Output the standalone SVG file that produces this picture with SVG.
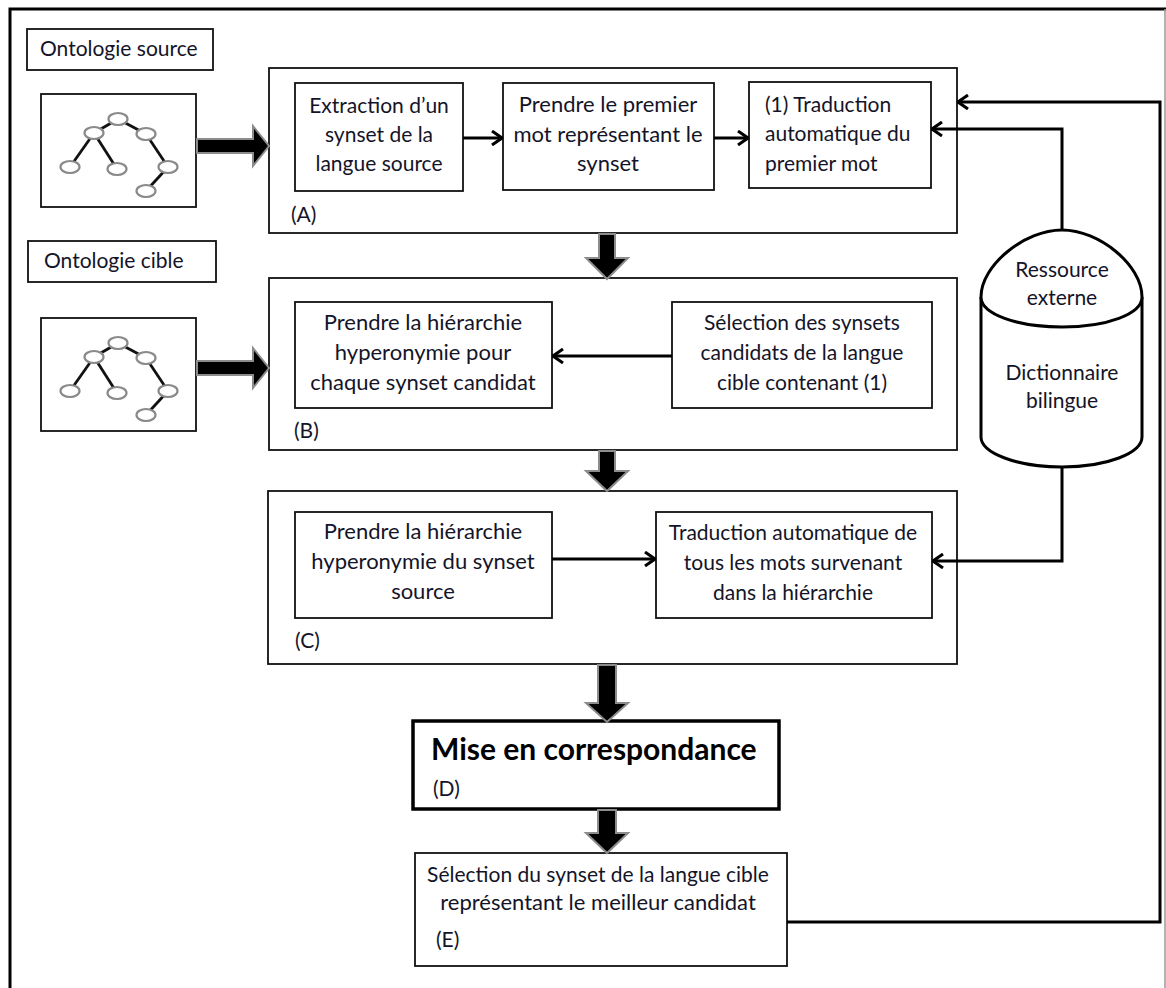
<svg xmlns="http://www.w3.org/2000/svg" xmlns:xlink="http://www.w3.org/1999/xlink" width="1166" height="988" viewBox="0 0 1166 988">
<style>
.box{fill:#fff;stroke:#111;stroke-width:1.8}
.t{font-family:Lato,"Liberation Sans",sans-serif;font-size:21px;fill:#141428}
.w{font-size:22px}
.c{text-anchor:middle}
.conn{fill:none;stroke:#000;stroke-width:3}
.fat{fill:#000;stroke:#8c8c8c;stroke-width:2;stroke-linejoin:miter}
.nd{fill:#fff;stroke:#8a8a8a;stroke-width:2.2}
.ed{stroke:#111;stroke-width:2.8}
</style>
<defs>
<marker id="ah" viewBox="0 0 12 16" refX="11" refY="8" markerWidth="12" markerHeight="16" markerUnits="userSpaceOnUse" orient="auto">
<path d="M1,1 L11,8 L1,15" fill="none" stroke="#000" stroke-width="3"/>
</marker>
<g id="tree">
<line class="ed" x1="118" y1="119" x2="94" y2="133"/>
<line class="ed" x1="118" y1="119" x2="146" y2="134"/>
<line class="ed" x1="94" y1="133" x2="70" y2="167"/>
<line class="ed" x1="94" y1="133" x2="117" y2="169"/>
<line class="ed" x1="146" y1="134" x2="168" y2="167"/>
<line class="ed" x1="168" y1="167" x2="146" y2="191"/>
<ellipse class="nd" cx="118" cy="119" rx="9.5" ry="6"/>
<ellipse class="nd" cx="94" cy="133" rx="9.5" ry="6"/>
<ellipse class="nd" cx="146" cy="134" rx="9.5" ry="6"/>
<ellipse class="nd" cx="70" cy="167" rx="9.5" ry="6"/>
<ellipse class="nd" cx="117" cy="169" rx="9.5" ry="6"/>
<ellipse class="nd" cx="168" cy="167" rx="9.5" ry="6"/>
<ellipse class="nd" cx="146" cy="191" rx="9.5" ry="6"/>
</g>
</defs>
<rect width="1166" height="988" fill="#fff"/>
<g id="frame">
<path d="M10,988 L10,9 L1166,9" fill="none" stroke="#000" stroke-width="3"/>
<line x1="1165" y1="9" x2="1165" y2="988" stroke="#999" stroke-width="1.5"/>
</g>
<g id="ontologie-source">
<rect class="box" x="27" y="29" width="186" height="41"/>
<text class="t" x="40" y="56">Ontologie source</text>
</g>
<g id="tree-source">
<rect class="box" x="41" y="94" width="155" height="113"/>
<use xlink:href="#tree"/>
</g>
<g id="ontologie-cible">
<rect class="box" x="28" y="241" width="188" height="41"/>
<text class="t" x="44" y="268">Ontologie cible</text>
</g>
<g id="tree-cible">
<rect class="box" x="41" y="318" width="155" height="113"/>
<use xlink:href="#tree" transform="translate(0,224)"/>
</g>
<g id="groupA">
<rect class="box" x="269" y="68" width="688" height="165"/>
<text class="t" x="291" y="222">(A)</text>
</g>
<g id="a1">
<rect class="box" x="295" y="83" width="168" height="108"/>
<text class="t c" x="379" y="113">Extraction d’un</text>
<text class="t c" x="379" y="142">synset de la</text>
<text class="t c" x="379" y="171">langue source</text>
</g>
<g id="a2">
<rect class="box" x="503" y="83" width="211" height="107"/>
<text class="t c w" x="608" y="112">Prendre le premier</text>
<text class="t c w" x="608" y="142">mot représentant le</text>
<text class="t c w" x="608" y="171">synset</text>
</g>
<g id="a3">
<rect class="box" x="749" y="82" width="182" height="106"/>
<text class="t" x="765" y="112">(1) Traduction</text>
<text class="t" x="765" y="141">automatique du</text>
<text class="t" x="765" y="171">premier mot</text>
</g>
<g id="groupB">
<rect class="box" x="269" y="278" width="688" height="172"/>
<text class="t" x="294" y="438">(B)</text>
</g>
<g id="b1">
<rect class="box" x="295" y="302" width="257" height="106"/>
<text class="t c w" x="423" y="330">Prendre la hiérarchie</text>
<text class="t c w" x="423" y="360">hyperonymie pour</text>
<text class="t c w" x="423" y="390">chaque synset candidat</text>
</g>
<g id="b2">
<rect class="box" x="672" y="302" width="260" height="106"/>
<text class="t c" x="802" y="330">Sélection des synsets</text>
<text class="t c" x="802" y="360">candidats de la langue</text>
<text class="t c" x="802" y="390">cible contenant (1)</text>
</g>
<g id="groupC">
<rect class="box" x="268" y="491" width="689" height="173"/>
<text class="t" x="295" y="648">(C)</text>
</g>
<g id="c1">
<rect class="box" x="295" y="512" width="257" height="106"/>
<text class="t c w" x="423" y="539">Prendre la hiérarchie</text>
<text class="t c w" x="423" y="569">hyperonymie du synset</text>
<text class="t c w" x="423" y="599">source</text>
</g>
<g id="c2">
<rect class="box" x="656" y="512" width="276" height="106"/>
<text class="t c" x="793" y="540">Traduction automatique de</text>
<text class="t c" x="793" y="570">tous les mots survenant</text>
<text class="t c" x="793" y="600">dans la hiérarchie</text>
</g>
<g id="d">
<rect x="413" y="721" width="366" height="88" fill="#fff" stroke="#000" stroke-width="3.5"/>
<text class="t" x="431" y="760" style="font-size:30px;font-weight:bold;fill:#000">Mise en correspondance</text>
<text class="t" x="433" y="796">(D)</text>
</g>
<g id="e">
<rect class="box" x="415" y="853" width="372" height="113"/>
<text class="t c" x="598" y="882">Sélection du synset de la langue cible</text>
<text class="t c w" x="598" y="910">représentant le meilleur candidat</text>
<text class="t" x="436" y="947">(E)</text>
</g>
<g id="ressource">
<path d="M981,297 L981,437 C981,453 1017,467 1062,467 C1107,467 1142,453 1142,437 L1142,297" fill="#fff" stroke="#000" stroke-width="3"/>
<path d="M981,297 C981,265 1025,230 1062,230 C1099,230 1142,265 1142,297 C1142,314 1107,327 1062,327 C1017,327 981,314 981,297 Z" fill="#fff" stroke="#000" stroke-width="3"/>
<text class="t c" x="1062" y="277">Ressource</text>
<text class="t c" x="1062" y="305">externe</text>
<text class="t c" x="1062" y="380">Dictionnaire</text>
<text class="t c" x="1062" y="408">bilingue</text>
</g>
<g id="connectors">
<line class="conn" x1="463" y1="138" x2="502" y2="138" marker-end="url(#ah)"/>
<line class="conn" x1="714" y1="138" x2="748" y2="138" marker-end="url(#ah)"/>
<line class="conn" x1="672" y1="356" x2="553" y2="356" marker-end="url(#ah)"/>
<line class="conn" x1="552" y1="559" x2="655" y2="559" marker-end="url(#ah)"/>
<path class="conn" d="M1062,230 L1062,129 L932,129" marker-end="url(#ah)"/>
<path class="conn" d="M1062,467 L1062,561 L933,561" marker-end="url(#ah)"/>
<path class="conn" d="M787,922 L1160,922 L1160,102 L958,102" marker-end="url(#ah)"/>
<polygon class="fat" points="197,139 253,139 253,126 269,146 253,166 253,153 197,153"/>
<polygon class="fat" points="197,361 253,361 253,348 269,368 253,388 253,375 197,375"/>
<polygon class="fat" points="599,234 615,234 615,258 628,258 607,279 586,258 599,258"/>
<polygon class="fat" points="599,451 615,451 615,471 628,471 607,491 586,471 599,471"/>
<polygon class="fat" points="598,665 616,665 616,703 628,703 607,722 586,703 598,703"/>
<polygon class="fat" points="598,810 616,810 616,833 628,833 607,853 586,833 598,833"/>
</g>
</svg>
